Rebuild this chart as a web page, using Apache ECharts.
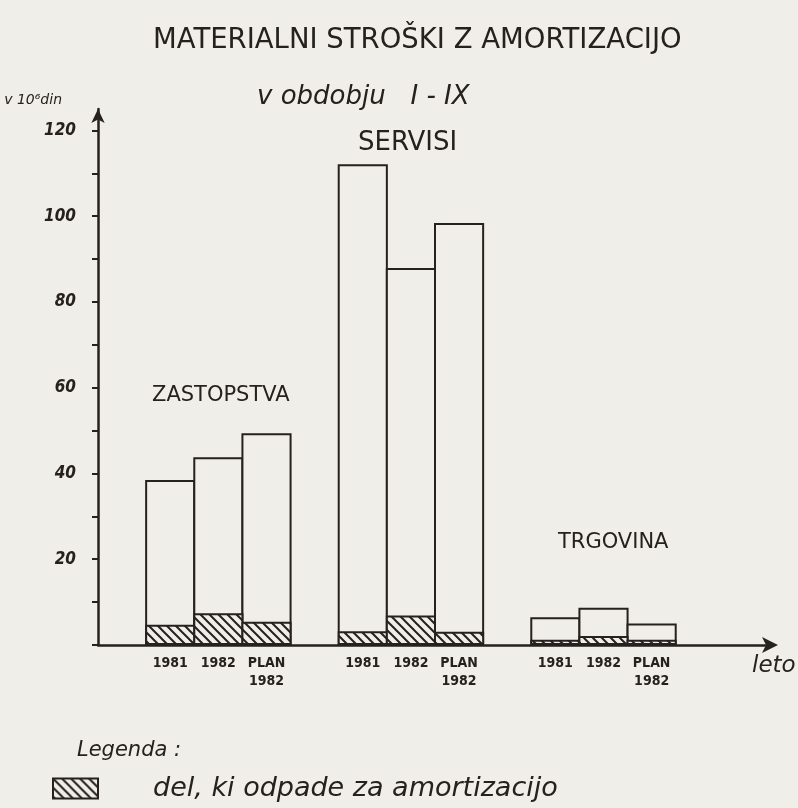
<!DOCTYPE html>
<html>
<head>
<meta charset="utf-8">
<script src="https://cdn.jsdelivr.net/npm/echarts@6/dist/echarts.min.js"></script>
<style>
  html, body { margin: 0; padding: 0; background: #efeee8; }
  #chart { width: 798px; height: 808px; }
</style>
</head>
<body>
<div id="chart"></div>
<script>
// ---- data (values in 10^6 din) ----
const groups = ['ZASTOPSTVA', 'SERVISI', 'TRGOVINA'];
const periods = ['1981', '1982', 'PLAN\n1982'];
const totalZastopstva = [38.5, 43.8, 49.4];
const amortZastopstva = [4.7, 7.4, 5.4];
const totalServisi = [112.1, 87.9, 98.4];
const amortServisi = [3.2, 6.9, 3.1];
const totalTrgovina = [6.5, 8.7, 5.0];
const amortTrgovina = [1.2, 2.1, 1.2];
const yTickValues = [0, 10, 20, 30, 40, 50, 60, 70, 80, 90, 100, 110, 120];
const yLabelValues = [20, 40, 60, 80, 100, 120];
const titleText = 'MATERIALNI STROŠKI Z AMORTIZACIJO';
const subtitleText = 'v obdobju   I - IX';
const yUnitText = 'v 10\u2076din';
const xNameText = 'leto';
const legendTitle = 'Legenda :';
const amortName = 'del, ki odpade za amortizacijo';
const totalName = 'materialni stroški';

// ---- build category slots (empty slots separate the groups) ----
const totals = [totalZastopstva, totalServisi, totalTrgovina];
const amorts = [amortZastopstva, amortServisi, amortTrgovina];
const cats = [], totalData = [], amortData = [];
function gap() { cats.push(''); totalData.push('-'); amortData.push('-'); }
gap();
groups.forEach((g, gi) => {
  periods.forEach((p, pi) => {
    cats.push(p);
    totalData.push(totals[gi][pi]);
    amortData.push(amorts[gi][pi]);
  });
  gap();
});
gap();

// ---- hatch pattern ----
const INK = '#26211e';
const PAPER = '#efeee8';
function hatch() {
  const s = 9;
  const c = document.createElement('canvas');
  c.width = s; c.height = s;
  const ctx = c.getContext('2d');
  ctx.fillStyle = PAPER;
  ctx.fillRect(0, 0, s, s);
  ctx.strokeStyle = INK;
  ctx.lineWidth = 2;
  ctx.beginPath();
  ctx.moveTo(-2, -2); ctx.lineTo(s + 2, s + 2);
  ctx.moveTo(-2 - s, -2); ctx.lineTo(2, s + 2);
  ctx.moveTo(s - 2, -2); ctx.lineTo(2 * s + 2, s + 2);
  ctx.stroke();
  return c;
}
const pattern = { image: hatch(), repeat: 'repeat' };

const FONT = "'DejaVu Sans', 'Liberation Sans', sans-serif";
const NARROW = "'Liberation Sans Narrow', 'DejaVu Sans Condensed', 'Liberation Sans', sans-serif";

const chart = echarts.init(document.getElementById('chart'), null, { renderer: 'canvas' });
chart.setOption({
  backgroundColor: PAPER,
  animation: false,
  textStyle: { fontFamily: FONT, color: INK },
  title: [
    { text: titleText, left: 148, top: 22,
      textStyle: { fontFamily: FONT, fontSize: 27.5, fontWeight: 'normal', color: INK } },
    { text: subtitleText, left: 252, top: 79,
      textStyle: { fontFamily: FONT, fontSize: 26, fontWeight: 'normal', fontStyle: 'italic', color: INK } },
    { text: groups[1], left: 353, top: 125,
      textStyle: { fontFamily: FONT, fontSize: 26, fontWeight: 'normal', color: INK } },
    { text: groups[0], left: 147, top: 380,
      textStyle: { fontFamily: FONT, fontSize: 21, fontWeight: 'normal', color: INK } },
    { text: groups[2], left: 553, top: 527,
      textStyle: { fontFamily: FONT, fontSize: 21, fontWeight: 'normal', color: INK } },
    { text: legendTitle, left: 72, top: 735,
      textStyle: { fontFamily: FONT, fontSize: 21, fontWeight: 'normal', fontStyle: 'italic', color: INK } }
  ],
  legend: {
    data: [amortName],
    left: 47, top: 770,
    itemWidth: 45, itemHeight: 20,
    icon: 'rect',
    textStyle: { fontFamily: FONT, fontSize: 27, fontStyle: 'italic', color: INK, padding: [0, 0, 0, 50] }
  },
  grid: { left: 98, right: 26, top: 109, bottom: 163, containLabel: false, outerBoundsMode: 'none' },
  xAxis: {
    type: 'category',
    data: cats,
    boundaryGap: true,
    name: xNameText,
    nameLocation: 'end',
    nameGap: -20,
    nameTextStyle: { fontFamily: FONT, fontSize: 23, fontStyle: 'italic', color: INK,
                     verticalAlign: 'top', padding: [10, 0, 0, 0] },
    axisLine: { show: true, lineStyle: { color: INK, width: 2.5 },
                symbol: ['none', 'arrow'], symbolSize: [12, 16], symbolOffset: [0, 6] },
    axisTick: { show: false },
    axisLabel: { interval: 0, margin: 9, fontFamily: NARROW, fontSize: 14, fontWeight: 'bold',
                 color: INK, lineHeight: 18 },
    splitLine: { show: false }
  },
  yAxis: {
    type: 'value',
    min: 0, max: 125,
    name: yUnitText,
    nameLocation: 'end',
    nameGap: 2,
    nameTextStyle: { fontFamily: FONT, fontSize: 14, fontStyle: 'italic', color: INK,
                     align: 'right', padding: [0, 36, 0, 0] },
    axisLine: { show: true, lineStyle: { color: INK, width: 2.5 },
                symbol: ['none', 'arrow'], symbolSize: [10, 14] },
    axisTick: { show: true, length: 6, inside: false, customValues: yTickValues,
                lineStyle: { color: INK, width: 2 } },
    axisLabel: { customValues: yLabelValues, margin: 22, fontFamily: NARROW, fontSize: 17,
                 fontStyle: 'italic', fontWeight: 'bold', color: INK },
    splitLine: { show: false }
  },
  series: [
    {
      name: totalName,
      type: 'bar',
      data: totalData,
      barWidth: '104.15%',
      barCategoryGap: '0%',
      itemStyle: { color: PAPER, borderColor: INK, borderWidth: 2 },
      emphasis: { disabled: true },
      z: 2
    },
    {
      name: amortName,
      type: 'bar',
      data: amortData,
      barWidth: '104.15%',
      barGap: '-100%',
      barCategoryGap: '0%',
      itemStyle: { color: pattern, borderColor: INK, borderWidth: 2 },
      emphasis: { disabled: true },
      z: 3
    }
  ]
});
</script>
</body>
</html>
